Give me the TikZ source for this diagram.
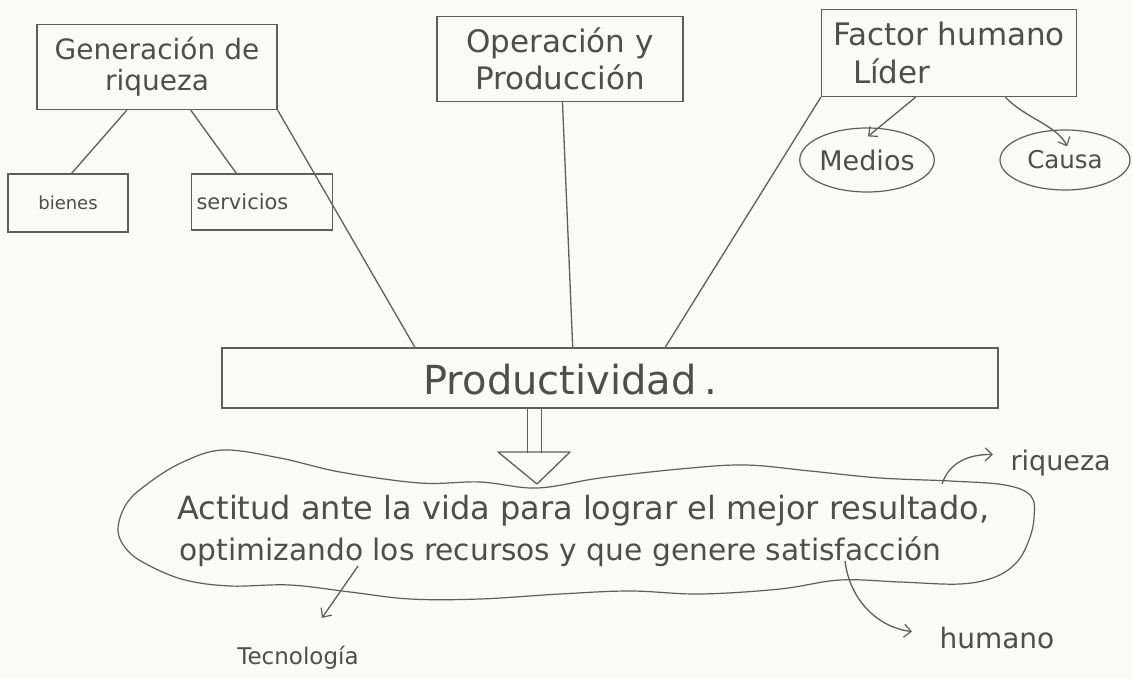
\documentclass[tikz,border=0pt]{standalone}
\usepackage{fontspec}
\setmainfont{DejaVu Sans}
\usetikzlibrary{calc,shapes.geometric,arrows.meta}
\definecolor{ink}{HTML}{4E4E4E}
\definecolor{pen}{HTML}{5E5E5E}
\definecolor{paper}{HTML}{FAFAF8}
\newcommand{\fs}[1]{\fontsize{#1}{#1}\selectfont}
\begin{document}
\begin{tikzpicture}[x=1pt,y=-1pt,
  every node/.style={text=ink},
  box/.style={draw=pen, line width=1.3pt, rectangle, inner sep=0pt, align=center},
  oval/.style={draw=pen, line width=1.2pt, ellipse, inner sep=0pt},
  conn/.style={draw=pen, line width=1.3pt},
  arr/.style={conn, -{Straight Barb[length=7pt,width=13pt,line width=1.2pt]}}]
\fill[paper] (0,0) rectangle (1132,679);
\useasboundingbox (0,0) rectangle (1132,679);

% top boxes
\node[box, font=\fontsize{28}{31}\selectfont, minimum width=240, minimum height=85] (gen) at (157,67) {Generación de\\riqueza};
\node[box, font=\fontsize{31}{37}\selectfont, minimum width=246, minimum height=85] (oper) at (560,59) {Operación y\\Producción};
\node[box, font=\fontsize{31}{38}\selectfont, align=left, minimum width=255, minimum height=87] (fact) at (949,53) {Factor humano\\\hspace*{20pt}Líder};

% sub-boxes under Generación
\node[box, font=\fs{18}, minimum width=120, minimum height=58] (bienes) at (68,203) {bienes};
\node[box, font=\fs{21}, align=left, text width=131, inner xsep=5pt, minimum height=56] (serv) at (262,202) {servicios};

% ovals under Factor humano
\node[oval, font=\fs{27}, minimum width=120, minimum height=64] (medios) at (867,160) {Medios};
\node[oval, font=\fs{24.5}, minimum width=130, minimum height=60] (causa) at (1065,160) {Causa};

% central bar
\node[box, minimum width=776, minimum height=60] (prod) at (610,378) {};
\node[font=\fs{40}, anchor=base west] (prodtxt) at (420,394) {Productividad\hspace{8pt}.};

% connectors
\draw[conn] ($(gen.south west)!0.375!(gen.south east)$) -- ($(bienes.north west)!0.53!(bienes.north east)$);
\draw[conn] ($(gen.south west)!0.64!(gen.south east)$) -- ($(serv.north west)!0.32!(serv.north east)$);
\draw[conn] (gen.south east) -- ($(prod.north west)!0.249!(prod.north east)$);
\draw[conn] ($(oper.south west)!0.51!(oper.south east)$) -- ($(prod.north west)!0.452!(prod.north east)$);
\draw[conn] (fact.south west) -- ($(prod.north west)!0.571!(prod.north east)$);
\draw[arr] ($(fact.south west)!0.37!(fact.south east)$) -- ($(medios.north)+(1,9)$);
\draw[arr] ($(fact.south west)!0.72!(fact.south east)$) .. controls (1025,118) and (1058,126) .. ($(causa.north)+(2,17)$);

% double arrow down into the cloud
\coordinate (t1) at (498,452);
\coordinate (t2) at (570,452);
\coordinate (t3) at (537,484);
\draw[conn] ($(prod.south west)!0.394!(prod.south east)$) -- ++(0,44);
\draw[conn] ($(prod.south west)!0.412!(prod.south east)$) -- ++(0,44);
\draw[conn, line join=round] (t1) -- (t2) -- (t3) -- cycle;

% cloud
\draw[conn, line width=1.2pt] plot[smooth cycle, tension=0.6] coordinates {
  (118,530) (127,503) (150,482) (183,462) (223,450) (280,458) (340,472)
  (420,483) (480,482) (537,488) (600,478) (680,469) (745,465) (810,471)
  (880,478) (950,481) (1005,485) (1031,496) (1034,518) (1029,540)
  (1017,562) (995,577) (960,584) (900,582) (840,580) (780,589) (700,594)
  (630,591) (560,594) (480,599) (410,599) (350,592) (290,585) (230,586)
  (185,580) (150,566) (128,551)};
\node[font=\fs{32}, anchor=base west] (l1) at (174,519) {Actitud ante la vida para lograr el mejor resultado,};
\node[font=\fs{29.7}, anchor=base west] (l2) at (176,560) {optimizando los recursos y que genere satisfacción};

% side labels
\coordinate (cr) at (942,484);
\coordinate (ch) at (845,561);
\coordinate (ct) at (358,566);
\node[font=\fs{27}, anchor=base west] (riq) at (1007,470) {riqueza};
\node[font=\fs{28}, anchor=base west] (hum) at (936,648) {humano};
\node[font=\fs{23}] (tec) at (298,658) {Tecnología};
\draw[arr] (cr) .. controls (948,466) and (964,454) .. ($(riq.west)+(-14,-8)$);
\draw[arr] (ch) .. controls (850,602) and (880,628) .. ($(hum.west)+(-24,-6)$);
\draw[arr] (ct) -- ($(tec.north)+(24,-25)$);
\end{tikzpicture}
\end{document}
